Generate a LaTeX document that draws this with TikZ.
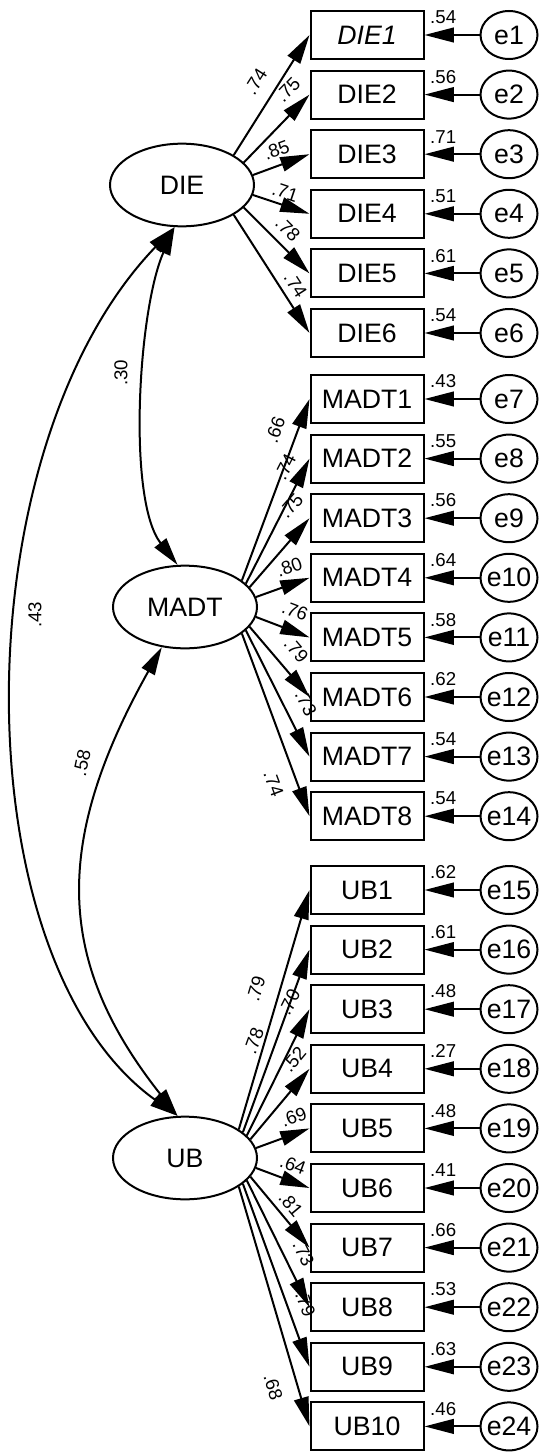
\documentclass[tikz,border=0pt]{standalone}
\usepackage{fontspec}
\setmainfont{Liberation Sans}
\usetikzlibrary{shapes.geometric,arrows.meta}
\begin{document}
\begin{tikzpicture}[x=0.75pt,y=-0.75pt,
  every node/.style={font=\fontsize{20}{23}\selectfont},
  lat/.style={draw, ellipse, line width=1.5pt, minimum width=108pt, minimum height=62pt, inner sep=0pt},
  obs/.style={draw, rectangle, line width=1.5pt, minimum width=84.75pt, minimum height=36pt, inner sep=0pt},
  err/.style={draw, ellipse, line width=1.5pt, minimum width=42.75pt, minimum height=36pt, inner sep=-5pt},
  ld/.style={line width=1.5pt, -{Triangle[length=22pt,width=11pt]}},
  cv/.style={line width=1.5pt, {Triangle[length=21pt,width=11pt]}-{Triangle[length=21pt,width=11pt]}},
  co/.style={font=\fontsize{14}{16}\selectfont, inner sep=0pt}
]
\useasboundingbox (0,0) rectangle (546,1452);

% latent variables
\node[lat] (DIE) at (182,185) {DIE};
\node[lat] (MADT) at (185,607) {MADT};
\node[lat] (UB) at (185,1158) {UB};

% DIE indicators
\node[obs] (DIE1) at (367,35) {\textit{DIE1}};
\node[obs] (DIE2) at (367,94.6) {DIE2};
\node[obs] (DIE3) at (367,154.2) {DIE3};
\node[obs] (DIE4) at (367,213.8) {DIE4};
\node[obs] (DIE5) at (367,273.4) {DIE5};
\node[obs] (DIE6) at (367,333) {DIE6};
\node[err] (e1) at (509,35) {e1};
\node[err] (e2) at (509,94.6) {e2};
\node[err] (e3) at (509,154.2) {e3};
\node[err] (e4) at (509,213.8) {e4};
\node[err] (e5) at (509,273.4) {e5};
\node[err] (e6) at (509,333) {e6};

% MADT indicators
\node[obs] (MADT1) at (367,399) {MADT1};
\node[obs] (MADT2) at (367,458.6) {MADT2};
\node[obs] (MADT3) at (367,518.2) {MADT3};
\node[obs] (MADT4) at (367,577.8) {MADT4};
\node[obs] (MADT5) at (367,637.4) {MADT5};
\node[obs] (MADT6) at (367,697) {MADT6};
\node[obs] (MADT7) at (367,756.6) {MADT7};
\node[obs] (MADT8) at (367,816.2) {MADT8};
\node[err] (e7) at (509,399) {e7};
\node[err] (e8) at (509,458.6) {e8};
\node[err] (e9) at (509,518.2) {e9};
\node[err] (e10) at (509,577.8) {e10};
\node[err] (e11) at (509,637.4) {e11};
\node[err] (e12) at (509,697) {e12};
\node[err] (e13) at (509,756.6) {e13};
\node[err] (e14) at (509,816.2) {e14};

% UB indicators
\node[obs] (UB1) at (367,890) {UB1};
\node[obs] (UB2) at (367,949.6) {UB2};
\node[obs] (UB3) at (367,1009.2) {UB3};
\node[obs] (UB4) at (367,1068.8) {UB4};
\node[obs] (UB5) at (367,1128.4) {UB5};
\node[obs] (UB6) at (367,1188) {UB6};
\node[obs] (UB7) at (367,1247.6) {UB7};
\node[obs] (UB8) at (367,1307.2) {UB8};
\node[obs] (UB9) at (367,1366.8) {UB9};
\node[obs] (UB10) at (367,1426.4) {UB10};
\node[err] (e15) at (509,890) {e15};
\node[err] (e16) at (509,949.6) {e16};
\node[err] (e17) at (509,1009.2) {e17};
\node[err] (e18) at (509,1068.8) {e18};
\node[err] (e19) at (509,1128.4) {e19};
\node[err] (e20) at (509,1188) {e20};
\node[err] (e21) at (509,1247.6) {e21};
\node[err] (e22) at (509,1307.2) {e22};
\node[err] (e23) at (509,1366.8) {e23};
\node[err] (e24) at (509,1426.4) {e24};

% loadings DIE
\draw[ld] (DIE.30) -- (DIE1.west) node[co,sloped,pos=0.52,above=9.8pt] {.74};
\draw[ld] (DIE.20) -- (DIE2.west) node[co,sloped,pos=0.88,above=8.5pt] {.75};
\draw[ld] (DIE.8) -- (DIE3.west) node[co,sloped,pos=0.51,above=5.8pt] {.85};
\draw[ld] (DIE.-8) -- (DIE4.west) node[co,sloped,pos=0.50,above=4pt] {.71};
\draw[ld] (DIE.-20) -- (DIE5.west) node[co,sloped,pos=0.50,above=6pt] {.78};
\draw[ld] (DIE.-30) -- (DIE6.west) node[co,sloped,pos=0.66,above=5pt] {.74};

% loadings MADT
\draw[ld] (MADT.25) -- (MADT1.west) node[co,sloped,pos=0.79,above=10.3pt] {.66};
\draw[ld] (MADT.21) -- (MADT2.west) node[co,sloped,pos=0.87,above=7.8pt] {.74};
\draw[ld] (MADT.17) -- (MADT3.west) node[co,sloped,pos=0.97,above=10.8pt] {.75};
\draw[ld] (MADT.8) -- (MADT4.west) node[co,sloped,pos=0.73,above=7.1pt] {.80};
\draw[ld] (MADT.-8) -- (MADT5.west) node[co,sloped,pos=0.60,above=8.9pt] {.76};
\draw[ld] (MADT.-17) -- (MADT6.west) node[co,sloped,pos=0.52,above=9.6pt] {.79};
\draw[ld] (MADT.-21) -- (MADT7.west) node[co,sloped,pos=0.65,above=10pt] {.73};
\draw[ld] (MADT.-25) -- (MADT8.west) node[co,sloped,pos=0.78,below=11.2pt] {.74};

% loadings UB
\draw[ld] (UB.28) -- (UB1.west) node[co,sloped,pos=0.56,above=11.8pt] {.79};
\draw[ld] (UB.24) -- (UB2.west) node[co,sloped,pos=0.46,above=10pt] {.78};
\draw[ld] (UB.20) -- (UB3.west) node[co,sloped,pos=0.98,above=10pt] {.70};
\draw[ld] (UB.16) -- (UB4.west) node[co,sloped,pos=0.97,above=7.6pt] {.52};
\draw[ld] (UB.8) -- (UB5.west) node[co,sloped,pos=0.81,above=6.4pt] {.69};
\draw[ld] (UB.-8) -- (UB6.west) node[co,sloped,pos=0.59,above=6.1pt] {.64};
\draw[ld] (UB.-16) -- (UB7.west) node[co,sloped,pos=0.51,above=4.3pt] {.81};
\draw[ld] (UB.-20) -- (UB8.west) node[co,sloped,pos=0.64,above=8.2pt] {.73};
\draw[ld] (UB.-24) -- (UB9.west) node[co,sloped,pos=0.69,above=7.5pt] {.79};
\draw[ld] (UB.-28) -- (UB10.west) node[co,sloped,pos=0.81,below=12.1pt] {.68};

% error terms
\draw[ld] (e1) -- (DIE1.east) node[co,pos=0.66,above=7.6pt] {.54};
\draw[ld] (e2) -- (DIE2.east) node[co,pos=0.66,above=7.6pt] {.56};
\draw[ld] (e3) -- (DIE3.east) node[co,pos=0.66,above=7.6pt] {.71};
\draw[ld] (e4) -- (DIE4.east) node[co,pos=0.66,above=7.6pt] {.51};
\draw[ld] (e5) -- (DIE5.east) node[co,pos=0.66,above=7.6pt] {.61};
\draw[ld] (e6) -- (DIE6.east) node[co,pos=0.66,above=7.6pt] {.54};
\draw[ld] (e7) -- (MADT1.east) node[co,pos=0.66,above=7.6pt] {.43};
\draw[ld] (e8) -- (MADT2.east) node[co,pos=0.66,above=7.6pt] {.55};
\draw[ld] (e9) -- (MADT3.east) node[co,pos=0.66,above=7.6pt] {.56};
\draw[ld] (e10) -- (MADT4.east) node[co,pos=0.66,above=7.6pt] {.64};
\draw[ld] (e11) -- (MADT5.east) node[co,pos=0.66,above=7.6pt] {.58};
\draw[ld] (e12) -- (MADT6.east) node[co,pos=0.66,above=7.6pt] {.62};
\draw[ld] (e13) -- (MADT7.east) node[co,pos=0.66,above=7.6pt] {.54};
\draw[ld] (e14) -- (MADT8.east) node[co,pos=0.66,above=7.6pt] {.54};
\draw[ld] (e15) -- (UB1.east) node[co,pos=0.66,above=7.6pt] {.62};
\draw[ld] (e16) -- (UB2.east) node[co,pos=0.66,above=7.6pt] {.61};
\draw[ld] (e17) -- (UB3.east) node[co,pos=0.66,above=7.6pt] {.48};
\draw[ld] (e18) -- (UB4.east) node[co,pos=0.66,above=7.6pt] {.27};
\draw[ld] (e19) -- (UB5.east) node[co,pos=0.66,above=7.6pt] {.48};
\draw[ld] (e20) -- (UB6.east) node[co,pos=0.66,above=7.6pt] {.41};
\draw[ld] (e21) -- (UB7.east) node[co,pos=0.66,above=7.6pt] {.66};
\draw[ld] (e22) -- (UB8.east) node[co,pos=0.66,above=7.6pt] {.53};
\draw[ld] (e23) -- (UB9.east) node[co,pos=0.66,above=7.6pt] {.63};
\draw[ld] (e24) -- (UB10.east) node[co,pos=0.66,above=7.6pt] {.46};

% covariances
\draw[cv] (DIE.260) .. controls (138,310) and (127,500) .. (MADT.100);
\draw[cv] (DIE.260) .. controls (-40,450) and (-40,960) .. (UB.100);
\draw[cv] (MADT.240) .. controls (54,840) and (54,960) .. (UB.100);
\node[co,rotate=90] (c30) at (121,373) {.30};
\node[co,rotate=90] (c43) at (35,615) {.43};
\node[co,rotate=78] (c58) at (82,763) {.58};
\end{tikzpicture}
\end{document}
